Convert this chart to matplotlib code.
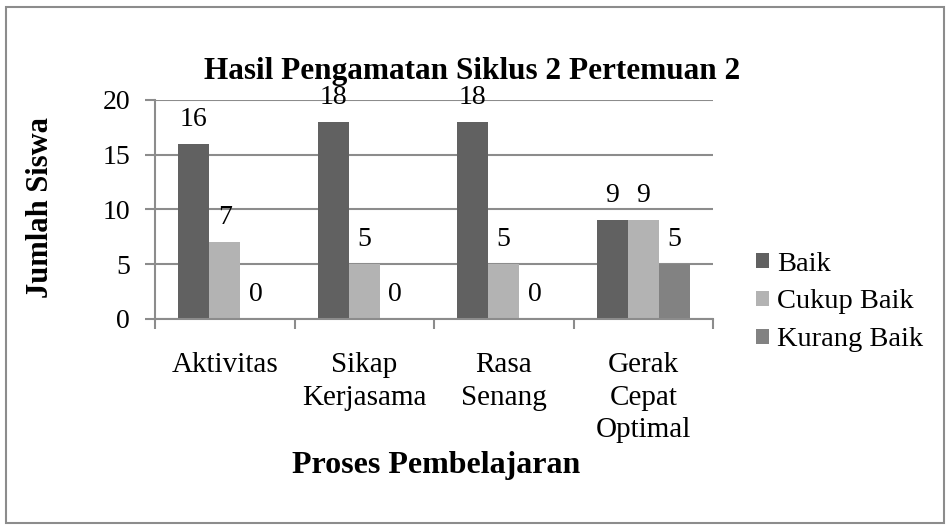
import matplotlib.pyplot as plt
import numpy as np
from matplotlib.patches import Rectangle

# Data
categories = ["Aktivitas", "Sikap\nKerjasama", "Rasa\nSenang", "Gerak\nCepat\nOptimal"]
series_names = ["Baik", "Cukup Baik", "Kurang Baik"]
baik = [16, 18, 18, 9]
cukup_baik = [7, 5, 5, 9]
kurang_baik = [0, 0, 0, 5]
colors = ["#616161", "#b3b3b3", "#828282"]

plt.rcParams['font.family'] = ['Liberation Serif', 'DejaVu Serif']

fig = plt.figure(figsize=(9.47, 5.28), dpi=100)
ax = fig.add_axes([155/947, 1-319/528, (713-155)/947, (319-100)/528])

# outer chart border
fig.patches.append(Rectangle((6/947, 5/528), 938/947, 516/528, transform=fig.transFigure,
                             fill=False, edgecolor="#8c8c8c", linewidth=1.5))

x = np.arange(len(categories))
w = 1/4.5
for i, (vals, name) in enumerate(zip([baik, cukup_baik, kurang_baik], series_names)):
    pos = x + (i-1)*w
    ax.bar(pos, vals, width=w, color=colors[i], label=name, zorder=3)
    for p, v in zip(pos, vals):
        ax.annotate(str(v), (p, v), xytext=(0, 13), textcoords="offset points",
                    ha="center", va="baseline", fontsize=20)

ax.set_xlim(-0.5, len(categories)-0.5)
ax.set_ylim(0, 20)
ax.set_yticks([0, 5, 10, 15, 20])
ax.set_xticks(np.arange(len(categories)+1) - 0.5, minor=False)
ax.set_xticklabels([])
ax.set_xticks(x, minor=True)
ax.set_xticklabels(categories, minor=True, fontsize=21, linespacing=1.32)
ax.tick_params(axis='x', which='minor', length=0, pad=24)
ax.tick_params(axis='x', which='major', length=7, color="#8c8c8c", width=1.5, direction='out')
ax.tick_params(axis='y', length=7, color="#8c8c8c", width=1.5, labelsize=20, pad=11)

ax.yaxis.grid(True, color="#8c8c8c", linewidth=1.5, zorder=0)
for s in ["top", "right"]:
    ax.spines[s].set_visible(False)
for s in ["left", "bottom"]:
    ax.spines[s].set_color("#8c8c8c")
    ax.spines[s].set_linewidth(1.5)
ax.spines["bottom"].set_zorder(4)

fig.text(472/947, 1-72/528, "Hasil Pengamatan Siklus 2 Pertemuan 2", ha="center", va="center",
         fontsize=22.5, fontweight="bold")
fig.text(40/947, 1-208/528, "Jumlah Siswa", ha="center", va="center", rotation=90,
         fontsize=22, fontweight="bold")
fig.text(436/947, 1-466/528, "Proses Pembelajaran", ha="center", va="center",
         fontsize=23, fontweight="bold")

ax.legend(loc="center left", bbox_to_anchor=(756/947, 1-302/528), bbox_transform=fig.transFigure,
          frameon=False, fontsize=20.5, handlelength=0.45, handleheight=0.45, handletextpad=0.3,
          labelspacing=0.45, borderaxespad=0, borderpad=0)

fig.savefig("out.png", dpi=100)
